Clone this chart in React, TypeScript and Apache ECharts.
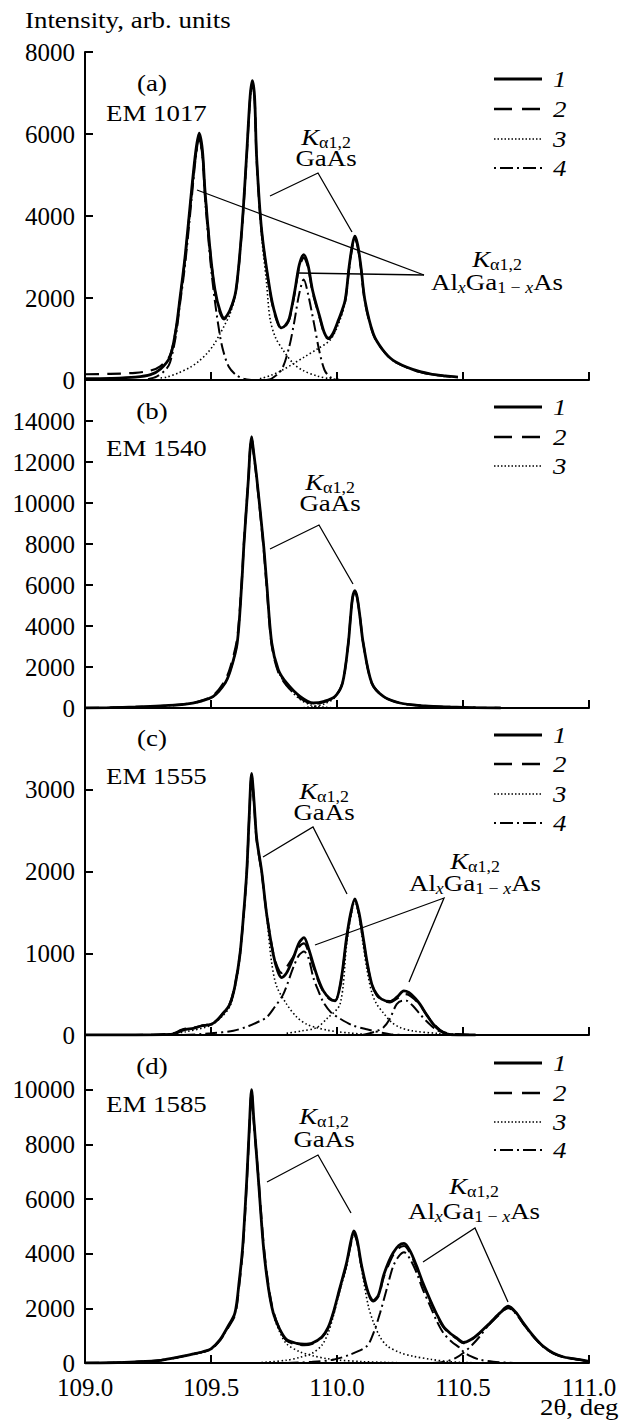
import React, { useEffect, useRef } from 'react';
import * as echarts from 'echarts';

// ---------------- DATA ----------------
const panelLabels = ['(a)', '(b)', '(c)', '(d)'];
const sampleNames = ['EM 1017', 'EM 1540', 'EM 1555', 'EM 1585'];
const yMaxes = [8000, 16000, 4000, 12000];
const yIntervals = [2000, 2000, 1000, 2000];
const xMin = 109.0;
const xMax = 111.0;
const xInterval = 0.5;
const legendNumbers = ['1', '2', '3', '4'];
const legendCounts = [4, 3, 4, 4];

// Panel (a) EM 1017
const aExp = [[109.0, 30], [109.1, 40], [109.2, 70], [109.26, 130], [109.3, 270], [109.337, 560], [109.36, 1200], [109.377, 2000], [109.397, 3000], [109.423, 4630], [109.44, 5600], [109.453, 6020], [109.466, 5600], [109.476, 4630], [109.499, 3000], [109.516, 2190], [109.535, 1700], [109.552, 1510], [109.575, 1700], [109.599, 2190], [109.622, 3650], [109.641, 5450], [109.655, 6900], [109.664, 7300], [109.673, 6900], [109.681, 5450], [109.701, 3650], [109.734, 2190], [109.755, 1600], [109.779, 1270], [109.795, 1330], [109.811, 1510], [109.833, 2190], [109.85, 2800], [109.868, 3060], [109.885, 2800], [109.903, 2190], [109.933, 1510], [109.95, 1150], [109.966, 1020], [109.985, 1150], [110.005, 1450], [110.032, 1940], [110.048, 2760], [110.061, 3300], [110.071, 3510], [110.082, 3300], [110.095, 2760], [110.111, 1940], [110.144, 1130], [110.18, 750], [110.223, 480], [110.3, 260], [110.369, 150], [110.43, 100], [110.48, 70]];
const aFit = [[109.0, 140], [109.1, 150], [109.2, 175], [109.26, 230], [109.3, 340], [109.337, 600], [109.36, 1200], [109.377, 1950], [109.397, 2950], [109.423, 4550], [109.44, 5500], [109.453, 5900], [109.466, 5500], [109.476, 4600], [109.499, 3000], [109.516, 2150], [109.535, 1650], [109.552, 1480], [109.575, 1680], [109.599, 2170], [109.622, 3620], [109.641, 5400], [109.655, 6850], [109.664, 7250], [109.673, 6850], [109.681, 5400], [109.701, 3620], [109.734, 2150], [109.755, 1560], [109.779, 1250], [109.795, 1310], [109.811, 1480], [109.833, 2150], [109.85, 2750], [109.868, 2980], [109.885, 2750], [109.903, 2150], [109.933, 1480], [109.95, 1120], [109.966, 1000], [109.985, 1120], [110.005, 1420], [110.032, 1900], [110.048, 2720], [110.061, 3250], [110.071, 3450], [110.082, 3250], [110.095, 2720], [110.111, 1900], [110.144, 1110], [110.18, 740], [110.223, 470], [110.3, 250], [110.369, 145], [110.43, 95], [110.48, 65]];
const aGaAs1 = [[109.3, 50], [109.324, 70], [109.37, 170], [109.417, 310], [109.45, 450], [109.483, 640], [109.51, 850], [109.536, 1130], [109.555, 1350], [109.575, 1600], [109.599, 2150], [109.622, 3600], [109.641, 5400], [109.655, 6800], [109.664, 7200], [109.673, 6800], [109.681, 5400], [109.701, 3500], [109.72, 2400], [109.734, 1500], [109.755, 1050], [109.787, 720], [109.827, 400], [109.866, 230], [109.92, 100], [109.972, 30], [110.02, 10]];
const aGaAs2 = [[109.694, 30], [109.74, 120], [109.78, 230], [109.827, 400], [109.87, 560], [109.92, 750], [109.972, 970], [110.005, 1350], [110.032, 1900], [110.048, 2700], [110.061, 3250], [110.071, 3450], [110.082, 3250], [110.095, 2700], [110.111, 1900], [110.144, 1120], [110.18, 740], [110.223, 470], [110.3, 250], [110.369, 145], [110.43, 95], [110.48, 65]];
const aAlGaAs1 = [[109.25, 20], [109.284, 80], [109.32, 250], [109.337, 420], [109.36, 1050], [109.377, 1850], [109.397, 2800], [109.423, 4400], [109.44, 5450], [109.453, 5900], [109.466, 5450], [109.476, 4450], [109.499, 2800], [109.516, 1900], [109.535, 1100], [109.549, 700], [109.57, 330], [109.6, 120], [109.63, 30], [109.66, 0]];
const aAlGaAs2 = [[109.72, 0], [109.74, 30], [109.78, 250], [109.81, 800], [109.829, 1370], [109.85, 2100], [109.868, 2450], [109.885, 2100], [109.909, 1370], [109.93, 700], [109.95, 250], [109.972, 70], [110.0, 10]];

// Panel (b) EM 1540
const bExp = [[109.0, 0], [109.1, 20], [109.2, 50], [109.3, 100], [109.4, 190], [109.45, 300], [109.509, 565], [109.556, 1220], [109.578, 1870], [109.604, 3170], [109.622, 6090], [109.631, 8040], [109.649, 11290], [109.655, 12600], [109.661, 13240], [109.668, 12600], [109.681, 11290], [109.708, 8040], [109.721, 6090], [109.741, 3170], [109.767, 1870], [109.8, 1220], [109.853, 565], [109.906, 244], [109.95, 330], [109.992, 565], [110.022, 1220], [110.045, 3170], [110.054, 4460], [110.062, 5400], [110.071, 5720], [110.08, 5400], [110.091, 4460], [110.104, 3170], [110.138, 1220], [110.184, 565], [110.25, 244], [110.35, 100], [110.45, 50], [110.55, 20], [110.65, 0]];
const bFit = [[109.0, 0], [109.1, 15], [109.2, 45], [109.3, 95], [109.4, 200], [109.45, 320], [109.509, 620], [109.556, 1350], [109.578, 2050], [109.604, 3400], [109.622, 6200], [109.631, 8100], [109.649, 11300], [109.655, 12550], [109.661, 13150], [109.668, 12550], [109.681, 11200], [109.708, 7900], [109.721, 5900], [109.741, 3050], [109.767, 1750], [109.8, 1100], [109.853, 480], [109.906, 200], [109.95, 300], [109.992, 560], [110.022, 1230], [110.045, 3170], [110.054, 4460], [110.062, 5380], [110.071, 5700], [110.08, 5380], [110.091, 4460], [110.104, 3170], [110.138, 1220], [110.184, 565], [110.25, 244], [110.35, 100], [110.45, 50], [110.55, 20], [110.65, 0]];
const bGaAs1 = [[109.0, 0], [109.2, 40], [109.3, 90], [109.4, 180], [109.45, 290], [109.509, 550], [109.556, 1200], [109.578, 1850], [109.604, 3150], [109.622, 6070], [109.631, 8020], [109.649, 11270], [109.655, 12580], [109.661, 13220], [109.668, 12580], [109.681, 11270], [109.708, 8020], [109.721, 6070], [109.741, 3150], [109.767, 1800], [109.8, 1100], [109.853, 420], [109.9, 130], [109.95, 40], [110.0, 0]];
const bGaAs2 = [[109.85, 0], [109.9, 60], [109.95, 200], [109.992, 520], [110.022, 1200], [110.045, 3150], [110.054, 4440], [110.062, 5380], [110.071, 5700], [110.08, 5380], [110.091, 4440], [110.104, 3150], [110.138, 1200], [110.184, 550], [110.25, 230], [110.35, 90], [110.45, 40], [110.55, 10], [110.65, 0]];

// Panel (c) EM 1555
const cExp = [[109.0, 0], [109.2, 0], [109.35, 10], [109.38, 50], [109.4, 70], [109.43, 80], [109.46, 110], [109.5, 130], [109.522, 174], [109.545, 250], [109.575, 378], [109.595, 600], [109.615, 988], [109.63, 1500], [109.642, 2004], [109.652, 2700], [109.661, 3200], [109.671, 2850], [109.681, 2410], [109.701, 2004], [109.721, 1476], [109.747, 988], [109.765, 780], [109.78, 702], [109.8, 760], [109.827, 946], [109.85, 1130], [109.869, 1190], [109.888, 1050], [109.906, 866], [109.926, 680], [109.946, 540], [109.97, 450], [109.992, 418], [110.015, 650], [110.038, 1190], [110.055, 1500], [110.071, 1665], [110.087, 1500], [110.104, 1190], [110.12, 880], [110.138, 622], [110.157, 500], [110.177, 439], [110.21, 410], [110.24, 470], [110.265, 540], [110.285, 520], [110.31, 450], [110.329, 378], [110.355, 250], [110.382, 134], [110.41, 50], [110.435, 15], [110.48, 0], [110.55, 0]];
const cFit = [[109.0, 0], [109.2, 0], [109.35, 20], [109.38, 60], [109.4, 80], [109.43, 90], [109.46, 110], [109.5, 140], [109.522, 180], [109.545, 260], [109.575, 390], [109.595, 610], [109.615, 990], [109.63, 1490], [109.642, 1990], [109.652, 2680], [109.661, 3170], [109.671, 2830], [109.681, 2390], [109.701, 1990], [109.721, 1480], [109.747, 1000], [109.765, 820], [109.78, 760], [109.8, 830], [109.827, 960], [109.85, 1080], [109.869, 1120], [109.888, 1010], [109.906, 840], [109.926, 660], [109.946, 530], [109.97, 440], [109.992, 420], [110.015, 640], [110.038, 1170], [110.055, 1480], [110.071, 1640], [110.087, 1480], [110.104, 1170], [110.12, 870], [110.138, 620], [110.157, 490], [110.177, 430], [110.21, 400], [110.24, 450], [110.265, 500], [110.285, 490], [110.31, 430], [110.329, 370], [110.355, 250], [110.382, 140], [110.41, 60], [110.435, 25], [110.48, 10], [110.55, 0]];
const cGaAs1 = [[109.3, 0], [109.4, 40], [109.5, 120], [109.545, 230], [109.575, 350], [109.595, 570], [109.615, 960], [109.63, 1480], [109.642, 1980], [109.652, 2680], [109.661, 3180], [109.671, 2830], [109.681, 2390], [109.701, 1980], [109.721, 1450], [109.74, 900], [109.76, 600], [109.8, 378], [109.84, 220], [109.88, 130], [109.919, 90], [109.96, 60], [110.0, 40], [110.05, 25], [110.1, 10]];
const cGaAs2 = [[109.8, 20], [109.86, 50], [109.919, 90], [109.96, 200], [110.012, 378], [110.038, 1100], [110.055, 1450], [110.071, 1640], [110.087, 1450], [110.104, 1100], [110.12, 780], [110.138, 520], [110.157, 380], [110.184, 270], [110.215, 160], [110.25, 93], [110.3, 50], [110.4, 20], [110.5, 5]];
const cAlGaAs1 = [[109.39, 0], [109.5, 20], [109.589, 52], [109.65, 110], [109.7, 180], [109.721, 215], [109.75, 330], [109.787, 500], [109.827, 830], [109.85, 980], [109.869, 1020], [109.888, 930], [109.906, 702], [109.926, 540], [109.946, 400], [109.975, 280], [110.012, 200], [110.06, 120], [110.118, 70], [110.21, 10], [110.3, 0]];
const cAlGaAs2 = [[110.1, 0], [110.15, 40], [110.184, 93], [110.21, 200], [110.237, 378], [110.26, 420], [110.276, 420], [110.3, 360], [110.329, 256], [110.355, 170], [110.382, 93], [110.41, 40], [110.44, 10], [110.5, 0]];

// Panel (d) EM 1585
const dExp = [[109.0, 0], [109.1, 10], [109.2, 40], [109.3, 100], [109.38, 230], [109.43, 330], [109.47, 420], [109.5, 520], [109.536, 855], [109.565, 1300], [109.595, 1834], [109.612, 3000], [109.626, 4278], [109.642, 6724], [109.652, 8600], [109.661, 10000], [109.67, 8900], [109.688, 6724], [109.708, 4278], [109.727, 2800], [109.747, 1834], [109.772, 1250], [109.8, 855], [109.84, 720], [109.87, 690], [109.9, 720], [109.94, 950], [109.965, 1300], [109.985, 1834], [110.01, 2700], [110.038, 3668], [110.055, 4450], [110.067, 4830], [110.08, 4500], [110.098, 3544], [110.124, 2568], [110.144, 2280], [110.165, 2500], [110.184, 3177], [110.205, 3700], [110.223, 4035], [110.245, 4300], [110.266, 4376], [110.29, 4100], [110.316, 3544], [110.34, 2950], [110.369, 2322], [110.395, 1800], [110.422, 1343], [110.45, 1080], [110.475, 917], [110.501, 750], [110.53, 850], [110.565, 1100], [110.607, 1467], [110.647, 1834], [110.68, 2076], [110.71, 1850], [110.739, 1467], [110.765, 1150], [110.792, 855], [110.82, 600], [110.858, 367], [110.9, 220], [110.964, 121], [111.0, 60]];
const dFit = [[109.0, 0], [109.1, 10], [109.2, 40], [109.3, 100], [109.38, 230], [109.43, 330], [109.47, 410], [109.5, 500], [109.536, 830], [109.565, 1250], [109.595, 1750], [109.612, 2850], [109.626, 4150], [109.642, 6600], [109.652, 8500], [109.661, 9900], [109.67, 8800], [109.688, 6800], [109.708, 4400], [109.727, 2900], [109.747, 1900], [109.772, 1250], [109.8, 820], [109.84, 680], [109.87, 650], [109.9, 700], [109.94, 930], [109.965, 1280], [109.985, 1800], [110.01, 2650], [110.038, 3600], [110.055, 4350], [110.067, 4720], [110.08, 4420], [110.098, 3500], [110.124, 2520], [110.144, 2250], [110.165, 2450], [110.184, 3100], [110.205, 3600], [110.223, 3950], [110.245, 4200], [110.266, 4280], [110.29, 4020], [110.316, 3480], [110.34, 2900], [110.369, 2280], [110.395, 1760], [110.422, 1310], [110.45, 1050], [110.475, 890], [110.501, 730], [110.53, 830], [110.565, 1080], [110.607, 1440], [110.647, 1800], [110.68, 2040], [110.71, 1830], [110.739, 1450], [110.765, 1130], [110.792, 840], [110.82, 590], [110.858, 360], [110.9, 215], [110.964, 118], [111.0, 58]];
const dGaAs1 = [[109.0, 0], [109.2, 30], [109.3, 90], [109.43, 320], [109.47, 400], [109.5, 500], [109.536, 830], [109.565, 1270], [109.595, 1800], [109.612, 2950], [109.626, 4230], [109.642, 6680], [109.652, 8550], [109.661, 9950], [109.67, 8850], [109.688, 6680], [109.708, 4230], [109.727, 2750], [109.747, 1780], [109.772, 1150], [109.8, 700], [109.85, 420], [109.906, 260], [109.96, 160], [110.0, 110], [110.1, 50], [110.2, 20], [110.3, 0]];
const dGaAs2 = [[109.7, 20], [109.8, 100], [109.85, 200], [109.9, 350], [109.94, 650], [109.965, 1100], [109.985, 1700], [110.01, 2600], [110.038, 3550], [110.055, 4350], [110.067, 4700], [110.08, 4400], [110.098, 3400], [110.124, 2100], [110.144, 1500], [110.171, 950], [110.2, 620], [110.25, 380], [110.3, 250], [110.375, 130], [110.435, 60], [110.5, 20], [110.6, 0]];
const dAlGaAs1 = [[109.8, 0], [109.9, 40], [109.985, 121], [110.05, 300], [110.118, 610], [110.145, 1100], [110.171, 1834], [110.2, 2800], [110.223, 3544], [110.245, 3900], [110.266, 4050], [110.29, 3800], [110.316, 3300], [110.34, 2700], [110.369, 2100], [110.395, 1550], [110.422, 1100], [110.455, 780], [110.488, 550], [110.501, 420], [110.53, 250], [110.567, 121], [110.62, 50], [110.7, 0]];
const dAlGaAs2 = [[110.38, 0], [110.435, 60], [110.47, 180], [110.501, 367], [110.535, 650], [110.567, 976], [110.6, 1380], [110.62, 1590], [110.65, 1850], [110.68, 2000], [110.71, 1800], [110.739, 1430], [110.765, 1120], [110.792, 830], [110.82, 580], [110.858, 350], [110.9, 210], [110.964, 115], [111.0, 55]];

// ---------------- LAYOUT / STYLE ----------------
const FONT = 'Liberation Serif, serif';
const SX = 1.12;
const GRID_LEFT = 85;
const GRID_WIDTH = 504;
const GRID_TOPS = [52, 380, 708, 1035];
const GRID_HEIGHTS = [328, 328, 327, 328];

const panels = [
  { exp: aExp, fit: aFit, gaas: [aGaAs1, aGaAs2], algaas: [aAlGaAs1, aAlGaAs2] },
  { exp: bExp, fit: bFit, gaas: [bGaAs1, bGaAs2], algaas: [] as number[][][] },
  { exp: cExp, fit: cFit, gaas: [cGaAs1, cGaAs2], algaas: [cAlGaAs1, cAlGaAs2] },
  { exp: dExp, fit: dFit, gaas: [dGaAs1, dGaAs2], algaas: [dAlGaAs1, dAlGaAs2] },
];

const STY = {
  exp: { width: 2.8, type: 'solid' as any },
  fit: { width: 2.2, type: [14, 8] as any },
  gaas: { width: 1.6, type: [1.5, 2.5] as any },
  algaas: { width: 2, type: [12, 4, 2, 4] as any },
};
const legendDash: any[] = [null, [18, 10], [1.5, 2], [2, 4, 13, 4]];
const legendWidth = [2.8, 2.4, 1.6, 2];

const richStyles = {
  k: { fontFamily: FONT, fontSize: 24, fontStyle: 'italic', lineHeight: 24, fill: '#000' },
  n: { fontFamily: FONT, fontSize: 24, lineHeight: 24, fill: '#000' },
  s: { fontFamily: FONT, fontSize: 16, lineHeight: 16, padding: [12, 0, 0, 0], fill: '#000' },
  si: { fontFamily: FONT, fontSize: 16, fontStyle: 'italic', lineHeight: 16, padding: [12, 0, 0, 0], fill: '#000' },
};

function text(x: number, y: number, t: string, align = 'left', extra: any = {}) {
  return {
    type: 'text',
    x,
    y,
    scaleX: SX,
    silent: true,
    style: {
      text: t,
      fill: '#000',
      fontFamily: FONT,
      fontSize: 24,
      align,
      textAlign: align,
      verticalAlign: 'middle',
      textVerticalAlign: 'middle',
      ...extra,
    },
  };
}

function richText(x: number, y: number, t: string) {
  return text(x, y, t, 'center', { rich: richStyles });
}

function buildOption() {
  const grid = GRID_TOPS.map((t, i) => ({ left: GRID_LEFT, width: GRID_WIDTH, top: t, height: GRID_HEIGHTS[i] }));
  const xAxis = GRID_TOPS.map((_, i) => ({
    type: 'value',
    gridIndex: i,
    min: xMin,
    max: xMax,
    interval: xInterval,
    axisLine: { show: true, onZero: false, lineStyle: { color: '#000', width: 2 } },
    axisTick: { show: true, inside: true, length: 8, lineStyle: { color: '#000', width: 2 } },
    axisLabel: {
      show: i === 3,
      color: '#000',
      fontFamily: FONT,
      fontSize: 25,
      margin: 12,
      formatter: (v: number) => v.toFixed(1),
    },
    splitLine: { show: false },
  }));
  const yAxis = GRID_TOPS.map((_, i) => ({
    type: 'value',
    gridIndex: i,
    min: 0,
    max: yMaxes[i],
    interval: yIntervals[i],
    axisLine: { show: true, onZero: false, lineStyle: { color: '#000', width: 2 } },
    axisTick: { show: true, inside: true, length: 8, lineStyle: { color: '#000', width: 2 } },
    axisLabel: {
      color: '#000',
      fontFamily: FONT,
      fontSize: 25,
      margin: 10,
      formatter: (v: number) => (i > 0 && v === yMaxes[i] ? '' : String(v)),
    },
    splitLine: { show: false },
  }));

  const series: any[] = [];
  const mk = (data: number[][], i: number, st: { width: number; type: any }, z: number) => ({
    type: 'line',
    xAxisIndex: i,
    yAxisIndex: i,
    data,
    smooth: 0.3,
    symbol: 'none',
    showSymbol: false,
    z,
    lineStyle: { color: '#000', width: st.width, type: st.type },
    silent: true,
  });
  panels.forEach((p, i) => {
    p.gaas.forEach((d) => series.push(mk(d, i, STY.gaas, 2)));
    p.algaas.forEach((d) => series.push(mk(d, i, STY.algaas, 3)));
    series.push(mk(p.fit, i, STY.fit, 4));
    series.push(mk(p.exp, i, STY.exp, 5));
  });

  const graphic: any[] = [];
  graphic.push(text(25, 20, 'Intensity, arb. units'));
  graphic.push(text(540, 1407, '2θ, deg'));

  const labelY = [83, 411, 738, 1066];
  const nameY = [113, 448, 776, 1104];
  const legendRows = [
    [79, 109, 139, 168],
    [407, 437, 466],
    [735, 764, 794, 823],
    [1063, 1093, 1122, 1150],
  ];
  panelLabels.forEach((lab, i) => {
    graphic.push(text(152, labelY[i], lab, 'center'));
    graphic.push(text(106, nameY[i], sampleNames[i]));
    for (let k = 0; k < legendCounts[i]; k++) {
      const y = legendRows[i][k];
      graphic.push({
        type: 'line',
        silent: true,
        shape: { x1: 494, y1: y, x2: 542, y2: y },
        style: { stroke: '#000', lineWidth: legendWidth[k], lineDash: legendDash[k] || undefined },
      });
      graphic.push(text(553, y, legendNumbers[k], 'left', { fontStyle: 'italic' }));
    }
  });

  const kLine = '{k|K}{s|α1,2}';
  const gaLine = '{n|GaAs}';
  const alLine = '{n|Al}{si|x}{n|Ga}{s|1 − }{si|x}{n|As}';
  const annots = [
    [326, 137, kLine], [326, 158, gaLine],
    [497, 259, kLine], [497, 282, alLine],
    [330, 482, kLine], [330, 503, gaLine],
    [324, 791, kLine], [324, 812, gaLine],
    [475, 861, kLine], [475, 883, alLine],
    [324, 1116, kLine], [324, 1139, gaLine],
    [474, 1186, kLine], [474, 1211, alLine],
  ] as [number, number, string][];
  annots.forEach(([x, y, t]) => graphic.push(richText(x, y, t)));

  const leaders = [
    [[270, 196], [318, 173], [352, 232]],
    [[197, 190], [424, 275]],
    [[298, 273], [424, 275]],
    [[270, 549], [319, 525], [353, 584]],
    [[263, 857], [313, 827], [347, 894]],
    [[315, 945], [444, 898], [409, 982]],
    [[267, 1182], [318, 1155], [351, 1213]],
    [[423, 1262], [475, 1228], [508, 1302]],
  ];
  leaders.forEach((pts) =>
    graphic.push({
      type: 'polyline',
      silent: true,
      shape: { points: pts },
      style: { stroke: '#000', lineWidth: 1.3, fill: 'none' },
    })
  );

  return {
    animation: false,
    backgroundColor: '#fff',
    grid,
    xAxis,
    yAxis,
    series,
    graphic,
  };
}

export default function App() {
  const ref = useRef<HTMLDivElement>(null);
  useEffect(() => {
    if (!ref.current) return;
    const chart = echarts.init(ref.current, null, { renderer: 'svg' });
    chart.setOption(buildOption() as any);
    return () => chart.dispose();
  }, []);
  return (
    <div
      ref={ref}
      style={{ position: 'absolute', left: 0, top: 0, width: 621, height: 1422, background: '#fff' }}
    />
  );
}
